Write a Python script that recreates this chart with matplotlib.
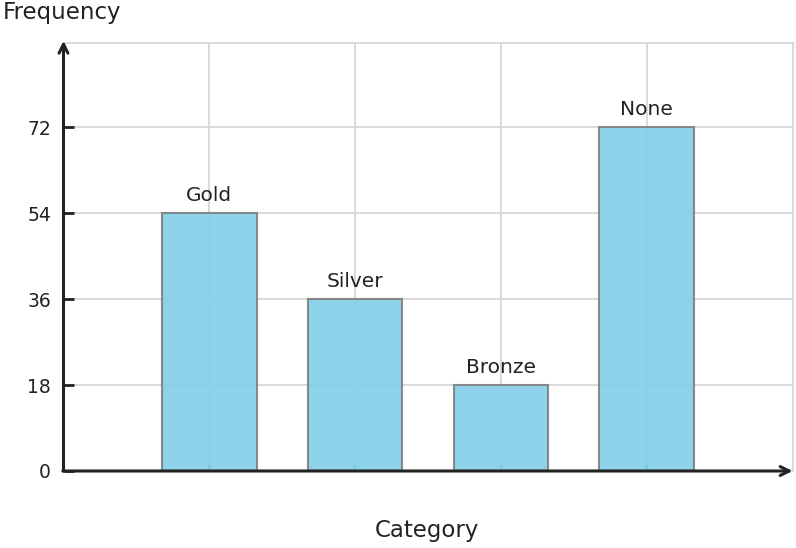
import matplotlib.pyplot as plt

categories = ["Gold", "Silver", "Bronze", "None"]
frequencies = [54, 36, 18, 72]
y_ticks = [0, 18, 36, 54, 72]

fig = plt.figure(figsize=(7.96, 5.48), dpi=100)
ax = fig.add_axes([63.5 / 796, 77 / 548, 729 / 796, 428 / 548])

positions = list(range(1, len(categories) + 1))
ax.grid(True, color="#d3d3d3", linewidth=1.2, zorder=1)
ax.set_axisbelow(True)
ax.bar(positions, frequencies, width=0.65, color="#82cfe8", edgecolor="#7f7f7f",
       linewidth=1.5, alpha=0.9, zorder=2)
for x, v, name in zip(positions, frequencies, categories):
    ax.text(x, v + 1.7, name, ha="center", va="bottom", fontsize=14.5, color="#222222")

ax.set_xlim(0, 5)
ax.set_ylim(0, 89.6)
ax.set_xticks(positions)
ax.set_xticklabels([])
ax.set_yticks(y_ticks)
ax.tick_params(axis="x", direction="in", length=4, width=1.5, color="#4a8fa6")
ax.tick_params(axis="y", direction="in", length=7, width=2, color="#222222",
               labelsize=13.5, labelcolor="#222222", pad=9)

for side in ["top", "right"]:
    ax.spines[side].set_color("#d3d3d3")
    ax.spines[side].set_linewidth(1.2)
for side in ["left", "bottom"]:
    ax.spines[side].set_visible(False)

arrow = dict(arrowstyle="->", color="#222222", lw=2.2, mutation_scale=16,
             shrinkA=0, shrinkB=0)
ax.annotate("", xy=(0, 1.005), xytext=(0, 0), xycoords="axes fraction",
            arrowprops=arrow, annotation_clip=False)
ax.annotate("", xy=(1.0, 0), xytext=(-0.001, 0), xycoords="axes fraction",
            arrowprops=arrow, annotation_clip=False)

fig.text(3 / 796, 1 - 13 / 548, "Frequency", ha="left", va="center", fontsize=16.5, color="#222222")
fig.text(427 / 796, 1 - 531 / 548, "Category", ha="center", va="center", fontsize=16.5, color="#222222")

fig.savefig("out.png", dpi=100)
